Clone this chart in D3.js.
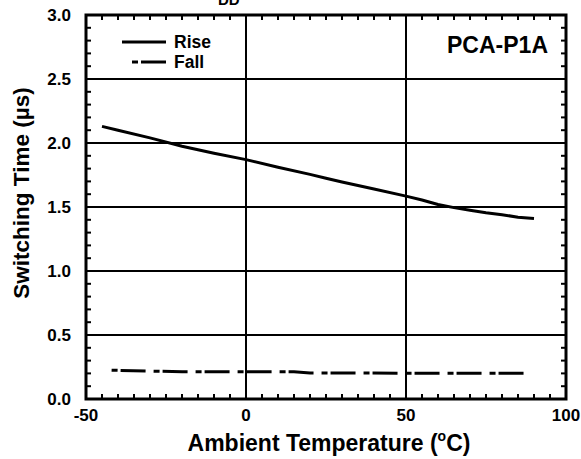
<!DOCTYPE html>
<html>
<head>
<meta charset="utf-8">
<script src="https://cdn.jsdelivr.net/npm/d3@7"></script>
<style>
  body { margin: 0; background: #fff; }
  svg { display: block; font-family: "Liberation Sans", Arial, sans-serif; font-weight: bold; }
</style>
</head>
<body>
<svg id="chart" width="581" height="459"></svg>
<script>
// ---- data ----
const riseTemps  = [-45, -40, -30, -20, -10, 0, 10, 20, 25, 30, 40, 50, 55, 60, 65, 70, 75, 80, 85, 90];
const riseValues = [2.13, 2.10, 2.04, 1.975, 1.92, 1.87, 1.81, 1.755, 1.725, 1.695, 1.64, 1.585, 1.555, 1.52, 1.495, 1.475, 1.455, 1.44, 1.42, 1.41];
const fallTemps  = [-42, -30, -20, 0, 15, 20, 50, 89];
const fallValues = [0.225, 0.218, 0.213, 0.212, 0.212, 0.203, 0.202, 0.202];
const xTicks = [-50, 0, 50, 100];
const yTicks = [0.0, 0.5, 1.0, 1.5, 2.0, 2.5, 3.0];
const seriesNames = ["Rise", "Fall"];
const chartLabel = "PCA-P1A";

// ---- layout ----
const svg = d3.select("#chart");
const L = 86, R = 566, T = 15, B = 399;
const x = d3.scaleLinear().domain([-50, 100]).range([L, R]);
const y = d3.scaleLinear().domain([0, 3]).range([B, T]);

// title fragment at top (cut off in the reference as well)
svg.append("text").attr("x", 218).attr("y", 5).attr("font-size", 15).text("DD");

// gridlines
const g = svg.append("g");
g.selectAll(".hg").data(yTicks.filter(v => v > 0 && v < 3)).enter().append("line")
  .attr("x1", L).attr("x2", R).attr("y1", d => y(d)).attr("y2", d => y(d))
  .attr("stroke", "#000").attr("stroke-width", 2);
g.selectAll(".vg").data(xTicks.filter(v => v > -50 && v < 100)).enter().append("line")
  .attr("y1", T).attr("y2", B).attr("x1", d => x(d)).attr("x2", d => x(d))
  .attr("stroke", "#000").attr("stroke-width", 2);

// legend background (masks gridline)
svg.append("rect").attr("x", 112).attr("y", 30).attr("width", 110).attr("height", 44).attr("fill", "#fff");

// minor ticks
const xMinor = d3.range(-45, 100, 5).filter(v => v % 50 !== 0);
const yMinor = d3.range(1, 30).map(i => i / 10).filter(v => Math.abs(v * 2 - Math.round(v * 2)) > 1e-6);
const tl = 5;
const ticks = svg.append("g").attr("stroke", "#000").attr("stroke-width", 2);
xMinor.forEach(v => {
  ticks.append("line").attr("x1", x(v)).attr("x2", x(v)).attr("y1", B).attr("y2", B - tl);
  ticks.append("line").attr("x1", x(v)).attr("x2", x(v)).attr("y1", T).attr("y2", T + tl);
});
yMinor.forEach(v => {
  ticks.append("line").attr("y1", y(v)).attr("y2", y(v)).attr("x1", L).attr("x2", L + tl);
  ticks.append("line").attr("y1", y(v)).attr("y2", y(v)).attr("x1", R).attr("x2", R - tl);
});

// data lines
const line = d3.line().x(d => x(d[0])).y(d => y(d[1]));
svg.append("path").datum(riseTemps.map((t, i) => [t, riseValues[i]]))
  .attr("d", line).attr("fill", "none").attr("stroke", "#000").attr("stroke-width", 3);
svg.append("path").datum(fallTemps.map((t, i) => [t, fallValues[i]]))
  .attr("d", line).attr("fill", "none").attr("stroke", "#000").attr("stroke-width", 3)
  .attr("stroke-dasharray", "6,3,25,8");

// frame
svg.append("rect").attr("x", L).attr("y", T).attr("width", R - L).attr("height", B - T)
  .attr("fill", "none").attr("stroke", "#000").attr("stroke-width", 3);

// axes labels
svg.append("g").selectAll("text").data(yTicks).enter().append("text")
  .attr("x", 71).attr("y", d => y(d)).attr("dy", "0.36em").attr("text-anchor", "end")
  .attr("font-size", 17).text(d => d.toFixed(1));
svg.append("g").selectAll("text").data(xTicks).enter().append("text")
  .attr("x", d => x(d)).attr("y", 421).attr("text-anchor", "middle")
  .attr("font-size", 17).text(d => d);

// axis titles
const xt = svg.append("text").attr("x", 329).attr("y", 451).attr("text-anchor", "middle").attr("font-size", 23);
xt.append("tspan").text("Ambient Temperature (");
xt.append("tspan").attr("font-size", 14).attr("dy", -10).text("o");
xt.append("tspan").attr("dy", 10).text("C)");
svg.append("text").attr("transform", "translate(29,193) rotate(-90)").attr("text-anchor", "middle")
  .attr("font-size", 22.5).text("Switching Time (µs)");

// legend
svg.append("line").attr("x1", 122).attr("x2", 166).attr("y1", 42).attr("y2", 42)
  .attr("stroke", "#000").attr("stroke-width", 3);
svg.append("line").attr("x1", 132).attr("x2", 166).attr("y1", 62).attr("y2", 62)
  .attr("stroke", "#000").attr("stroke-width", 3).attr("stroke-dasharray", "6,3,25,8");
svg.append("text").attr("x", 174).attr("y", 48).attr("font-size", 17.5).text(seriesNames[0]);
svg.append("text").attr("x", 174).attr("y", 68).attr("font-size", 17.5).text(seriesNames[1]);

// chart label
svg.append("text").attr("x", 548).attr("y", 53).attr("text-anchor", "end").attr("font-size", 23).text(chartLabel);
</script>
</body>
</html>
